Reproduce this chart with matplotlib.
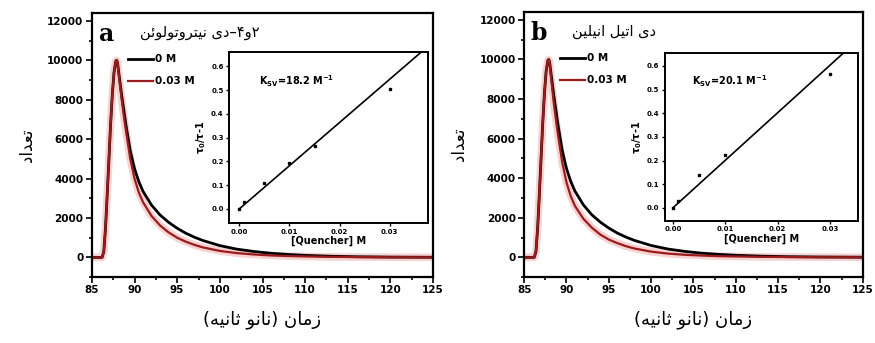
import matplotlib
matplotlib.use("Agg")
import matplotlib.pyplot as plt
from matplotlib.ticker import MultipleLocator, AutoMinorLocator

plt.rcParams['font.family'] = ['DejaVu Sans']
plt.rcParams['mathtext.default'] = 'bf'

# --- data ---
time_ns = [85, 86, 86.2, 86.4, 86.6, 86.8, 87.0, 87.2, 87.4, 87.6, 87.8, 87.9,
           88.0, 88.2, 88.5, 88.8, 89.0, 89.5, 90.0, 90.5, 91, 92, 93, 94, 95,
           96, 97, 98, 100, 102, 104, 106, 108, 110, 113, 116, 120, 125]

# panel a (2,4-dinitrotoluene)
a_0M = [0, 0, 0, 300, 1500, 3200, 5000, 6800, 8300, 9400, 9950, 10000,
        9900, 9200, 8200, 7300, 6700, 5400, 4500, 3850, 3350, 2650, 2150, 1780, 1480,
        1230, 1030, 860, 600, 420, 300, 210, 150, 105, 60, 35, 18, 8]
a_003M = [0, 0, 0, 300, 1500, 3200, 5000, 6800, 8300, 9400, 9950, 10000,
          9900, 9100, 8000, 7000, 6400, 5000, 4000, 3300, 2800, 2100, 1620, 1270, 1000,
          800, 640, 510, 330, 220, 150, 100, 70, 50, 30, 18, 10, 5]

# panel b (diethylaniline)
b_0M = [0, 0, 0, 300, 1500, 3200, 5000, 6800, 8300, 9400, 9950, 10000,
        9900, 9200, 8200, 7300, 6700, 5400, 4500, 3850, 3350, 2650, 2150, 1780, 1480,
        1230, 1030, 860, 600, 420, 300, 210, 150, 105, 60, 35, 18, 8]
b_003M = [0, 0, 0, 300, 1500, 3200, 5000, 6800, 8300, 9400, 9950, 10000,
          9900, 9000, 7800, 6800, 6200, 4800, 3800, 3100, 2600, 1950, 1500, 1150, 900,
          720, 570, 450, 290, 190, 130, 90, 60, 45, 27, 15, 8, 4]

# Stern-Volmer insets
a_q = [0, 0.001, 0.005, 0.01, 0.015, 0.03]
a_tau = [0, 0.03, 0.11, 0.195, 0.265, 0.505]
a_ksv = 18.2
b_q = [0, 0.001, 0.005, 0.01, 0.03]
b_tau = [0, 0.03, 0.14, 0.225, 0.565]
b_ksv = 20.1
fit_q = [0, 0.04]

title_a = "۲و۴–دی نیتروتولوئن"
title_b = "دی اتیل انیلین"
ylabel_fa = "تعداد"
xlabel_fa = "زمان (نانو ثانیه)"

# --- tiny Persian shaper (presentation forms + reversal) ---
FORMS = {  # isolated, final, initial, medial
    'ا': ('\uFE8D', '\uFE8E', None, None),
    'ت': ('\uFE95', '\uFE96', '\uFE97', '\uFE98'),
    'ث': ('\uFE99', '\uFE9A', '\uFE9B', '\uFE9C'),
    'د': ('\uFEA9', '\uFEAA', None, None),
    'ر': ('\uFEAD', '\uFEAE', None, None),
    'ز': ('\uFEAF', '\uFEB0', None, None),
    'ع': ('\uFEC9', '\uFECA', '\uFECB', '\uFECC'),
    'ل': ('\uFEDD', '\uFEDE', '\uFEDF', '\uFEE0'),
    'م': ('\uFEE1', '\uFEE2', '\uFEE3', '\uFEE4'),
    'ن': ('\uFEE5', '\uFEE6', '\uFEE7', '\uFEE8'),
    'ه': ('\uFEE9', '\uFEEA', '\uFEEB', '\uFEEC'),
    'و': ('\uFEED', '\uFEEE', None, None),
    'ئ': ('\uFE89', '\uFE8A', '\uFE8B', '\uFE8C'),
    'ی': ('\uFEEF', '\uFEF0', '\uFEF3', '\uFEF4'),
}


def dual(c):
    return c in FORMS and FORMS[c][2] is not None


def fa(text):
    out = []
    for i, c in enumerate(text):
        if c not in FORMS:
            out.append(c)
            continue
        prev = text[i - 1] if i > 0 else ''
        nxt = text[i + 1] if i + 1 < len(text) else ''
        jp = dual(prev)
        jn = dual(c) and nxt in FORMS
        f = FORMS[c]
        if jp and jn:
            out.append(f[3])
        elif jp:
            out.append(f[1])
        elif jn:
            out.append(f[2])
        else:
            out.append(f[0])
    s = ''.join(out)[::-1]
    return s.translate(str.maketrans('()', ')('))


fig = plt.figure(figsize=(8.75, 3.43), dpi=100)

RED = '#9a1c1c'


def panel(rect, inset_rect, letter, title, y0, y3, q, tau, ksv, ixlim, iylim, kpos):
    ax = fig.add_axes(rect)
    ax.plot(time_ns, y3, color='#f19a9a', lw=5.5, alpha=0.45, solid_capstyle='round')
    ax.plot(time_ns, y0, color='black', lw=2.0, label='0 M')
    ax.plot(time_ns, y3, color=RED, lw=1.6, label='0.03 M')
    ax.set_xlim(85, 125)
    ax.set_ylim(-1000, 12400)
    ax.xaxis.set_major_locator(MultipleLocator(5))
    ax.xaxis.set_minor_locator(AutoMinorLocator(2))
    ax.yaxis.set_major_locator(MultipleLocator(2000))
    ax.yaxis.set_minor_locator(AutoMinorLocator(2))
    ax.tick_params(which='both', direction='out', width=1.2, labelsize=7.5, pad=2)
    ax.tick_params(which='major', length=4)
    ax.tick_params(which='minor', length=2)
    for lab in ax.get_xticklabels() + ax.get_yticklabels():
        lab.set_fontweight('bold')
    for s in ax.spines.values():
        s.set_linewidth(1.6)
    ax.set_xlabel(fa(xlabel_fa), fontsize=13, labelpad=11)
    ax.set_ylabel(fa(ylabel_fa), fontsize=12, labelpad=8)
    leg = ax.legend(loc='upper left', bbox_to_anchor=(0.095, 0.86), frameon=False,
                    fontsize=7.5, handlelength=2.4, handletextpad=0.1,
                    labelspacing=1.15, borderaxespad=0)
    for t in leg.get_texts():
        t.set_fontweight('bold')
    ax.text(0.02, 0.965, letter, transform=ax.transAxes, fontsize=17,
            fontweight='bold', family='DejaVu Serif', va='top', ha='left')
    ax.text(0.14, 0.955, fa(title), transform=ax.transAxes, fontsize=10.5,
            va='top', ha='left')

    ins = fig.add_axes(inset_rect)
    ins.plot(fit_q, [ksv * v for v in fit_q], color='black', lw=1.2)
    ins.plot(q, tau, 's', color='black', ms=1.8)
    ins.set_xlim(*ixlim)
    ins.set_ylim(*iylim)
    ins.set_xticks([0, 0.01, 0.02, 0.03])
    ins.set_xticklabels(['0.00', '0.01', '0.02', '0.03'])
    ins.set_yticks([0, 0.1, 0.2, 0.3, 0.4, 0.5, 0.6])
    ins.set_yticklabels(['0.0', '0.1', '0.2', '0.3', '0.4', '0.5', '0.6'])
    ins.tick_params(direction='out', length=2.5, width=1, labelsize=5, pad=1.5)
    for lab in ins.get_xticklabels() + ins.get_yticklabels():
        lab.set_fontweight('bold')
    for s in ins.spines.values():
        s.set_linewidth(1.4)
    ins.set_xlabel('[Quencher] M', fontsize=7, fontweight='bold', labelpad=1)
    ins.set_ylabel('τ$_0$/τ-1', fontsize=7, fontweight='bold', labelpad=2)
    ins.text(kpos[0], kpos[1], 'K$_{SV}$=%.1f M$^{-1}$' % ksv, transform=ins.transAxes,
             fontsize=7, fontweight='bold', va='center', ha='left')


panel([0.105, 0.192, 0.390, 0.770], [0.262, 0.350, 0.227, 0.498], 'a', title_a,
      a_0M, a_003M, a_q, a_tau, a_ksv, (-0.002, 0.0376), (-0.059, 0.66), (0.15, 0.83))
panel([0.599, 0.192, 0.387, 0.773], [0.760, 0.356, 0.221, 0.490], 'b', title_b,
      b_0M, b_003M, b_q, b_tau, b_ksv, (-0.0015, 0.0354), (-0.055, 0.655), (0.14, 0.83))

fig.savefig('out.png', dpi=100)
